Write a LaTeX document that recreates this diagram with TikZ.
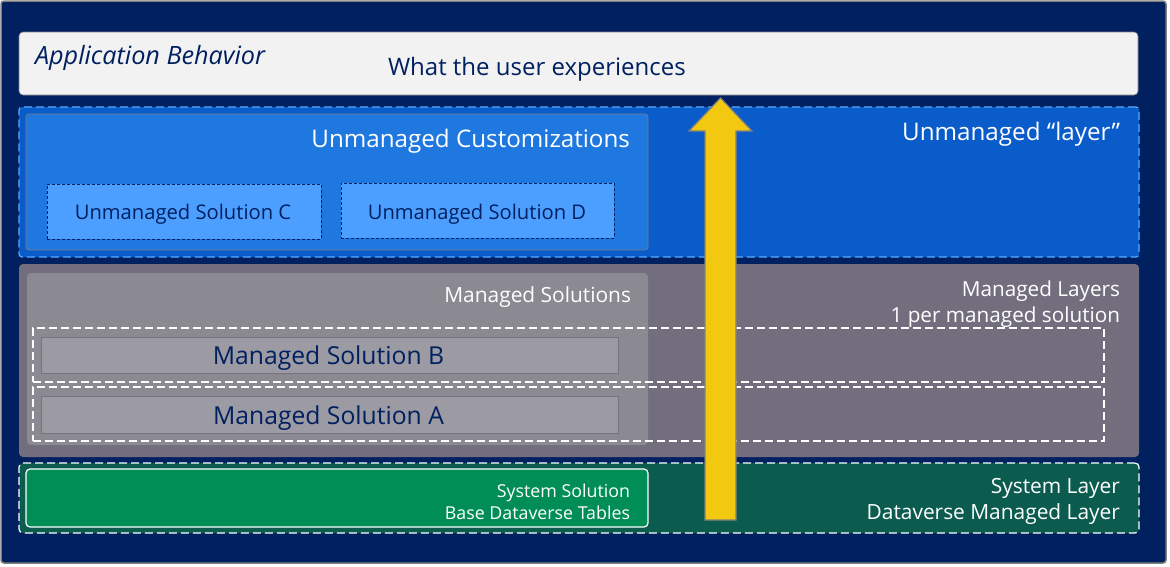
\documentclass[tikz,border=0pt]{standalone}
\usepackage{fontspec}
\setmainfont{Open Sans}
\newcommand\myfs[1]{\fontsize{#1}{#1}\selectfont}
\definecolor{navy}{HTML}{002060}
\definecolor{appfill}{HTML}{F2F2F2}
\definecolor{unlayer}{HTML}{0A5CCB}
\definecolor{undash}{HTML}{5AA9FF}
\definecolor{uncust}{HTML}{1F77E0}
\definecolor{unsol}{HTML}{4D9FFF}
\definecolor{mlayer}{HTML}{736E7E}
\definecolor{msols}{HTML}{8B8992}
\definecolor{msol}{HTML}{9C9AA3}
\definecolor{msolline}{HTML}{77737F}
\definecolor{syslayer}{HTML}{0B5C4E}
\definecolor{syssol}{HTML}{008E56}
\definecolor{arrowfill}{HTML}{F2C811}
\definecolor{edgegrey}{HTML}{7F7F7F}
\tikzset{
  boxat/.style={anchor=north west, inner sep=0pt, outer sep=0pt},
  lbl/.style={inner sep=0pt, outer sep=0pt},
  whitetxt/.style={lbl, text=white},
  navytxt/.style={lbl, text=navy},
  longdash/.style={dash pattern=on 8pt off 4pt},
}
\begin{document}
\begin{tikzpicture}[x=1pt,y=-1pt]
\useasboundingbox (0,0) rectangle (1170,566);
% outer background
\node[boxat, fill=navy, draw=edgegrey, line width=1.5pt, rounded corners=3pt,
  minimum width=1165pt, minimum height=562pt] (bg) at (1,1) {};
% application behavior
\node[boxat, fill=appfill, draw=edgegrey, line width=0.6pt, rounded corners=4pt,
  minimum width=1119pt, minimum height=63pt] (app) at (19,32) {};
\node[navytxt, anchor=base west, font=\myfs{25.2}\itshape] (apptitle) at (35,64) {Application Behavior};
\node[navytxt, anchor=base west, font=\myfs{24}] (appdesc) at (388,75) {What the user experiences};
% unmanaged layer
\node[boxat, fill=unlayer, draw=undash, longdash, line width=1.2pt, rounded corners=3pt,
  minimum width=1120pt, minimum height=150pt] (unl) at (19,107) {};
\node[whitetxt, anchor=base east, font=\myfs{24.2}] (unltxt) at (1120,140) {Unmanaged “layer”};
\node[boxat, fill=uncust, draw=edgegrey, line width=0.6pt, rounded corners=3pt,
  minimum width=622pt, minimum height=136pt] (cust) at (26,114) {};
\node[whitetxt, anchor=base east, font=\myfs{24.2}] (custtxt) at (630,147) {Unmanaged Customizations};
\node[boxat, fill=unsol, draw=navy, densely dashed, line width=0.5pt,
  minimum width=274pt, minimum height=55pt] (solc) at (47,184) {};
\node[navytxt, anchor=base, font=\myfs{20.2}] (solctxt) at (183,219) {Unmanaged Solution C};
\node[boxat, fill=unsol, draw=navy, densely dashed, line width=0.5pt,
  minimum width=273pt, minimum height=55pt] (sold) at (341,183) {};
\node[navytxt, anchor=base, font=\myfs{20.2}] (soldtxt) at (477,219) {Unmanaged Solution D};
% managed layer
\node[boxat, fill=mlayer, rounded corners=4pt,
  minimum width=1120pt, minimum height=193pt] (ml) at (19,264) {};
\node[whitetxt, anchor=base east, font=\myfs{20.7}] (mltxt1) at (1120,296) {Managed Layers};
\node[whitetxt, anchor=base east, font=\myfs{20.7}] (mltxt2) at (1120,322) {1 per managed solution};
\node[boxat, fill=msols, rounded corners=4pt,
  minimum width=621pt, minimum height=172pt] (msols) at (27,273) {};
\node[whitetxt, anchor=base east, font=\myfs{20.9}] (msolstxt) at (631,302) {Managed Solutions};
\node[boxat, fill=msol, draw=msolline, line width=0.8pt,
  minimum width=577pt, minimum height=36pt] (msb) at (41,337) {};
\node[navytxt, anchor=base, font=\myfs{24.7}] (msbtxt) at (328.5,364) {Managed Solution B};
\node[boxat, fill=msol, draw=msolline, line width=0.8pt,
  minimum width=577pt, minimum height=37pt] (msa) at (41,396) {};
\node[navytxt, anchor=base, font=\myfs{24.7}] (msatxt) at (328.5,424) {Managed Solution A};
\node[boxat, draw=white, longdash, line width=1.2pt,
  minimum width=1071pt, minimum height=54pt] (lb) at (33,328) {};
\node[boxat, draw=white, longdash, line width=1.2pt,
  minimum width=1071pt, minimum height=54pt] (la) at (33,387) {};
% system layer
\node[boxat, fill=syslayer, draw=white, longdash, line width=1.2pt, rounded corners=4pt,
  minimum width=1120pt, minimum height=70pt] (sysl) at (19,463) {};
\node[whitetxt, anchor=base east, font=\myfs{20.9}] (sysltxt1) at (1120,493) {System Layer};
\node[whitetxt, anchor=base east, font=\myfs{20.9}] (sysltxt2) at (1120,519) {Dataverse Managed Layer};
\node[boxat, fill=syssol, draw=white, line width=1.2pt, rounded corners=4pt,
  minimum width=622pt, minimum height=58pt] (syss) at (26,469) {};
\node[whitetxt, anchor=base east, font=\myfs{17.8}] (sysstxt1) at (630,497) {System Solution};
\node[whitetxt, anchor=base east, font=\myfs{17.8}] (sysstxt2) at (630,519) {Base Dataverse Tables};
% yellow arrow
\draw[fill=arrowfill, draw=edgegrey, line width=1.2pt, line join=miter]
  (705,520) -- (705,131) -- (689,131) -- (720.5,98) -- (752,131) -- (736,131) -- (736,520) -- cycle;
\end{tikzpicture}
\end{document}
